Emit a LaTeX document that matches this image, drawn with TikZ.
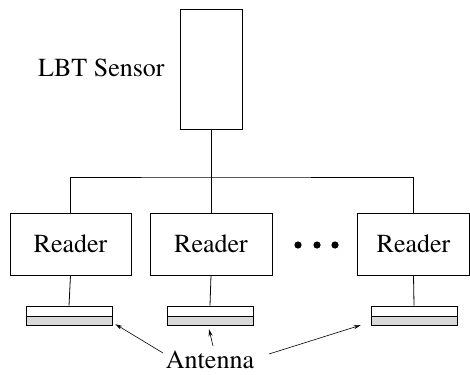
\documentclass[tikz,border=0pt]{standalone}
\usepackage[T1]{fontenc}
\renewcommand{\rmdefault}{ptm}
\usetikzlibrary{arrows.meta,calc}

\tikzset{
	lbl/.style={font=\fontsize{26}{30}\selectfont, inner sep=0pt},
	box/.style={draw, line width=0.8pt, inner sep=0pt, minimum height=62pt, font=\fontsize{26}{30}\selectfont},
	anttop/.style={draw, line width=0.8pt, inner sep=0pt, minimum width=86pt, minimum height=10pt},
	antbot/.style={anttop, fill=gray!30, minimum height=9pt},
	wire/.style={line width=0.8pt},
	pointer/.style={line width=0.6pt, -{Stealth[length=7pt,width=4pt]}}
}

\begin{document}
\begin{tikzpicture}[x=1pt, y=-1pt]
		\useasboundingbox (0,0) rectangle (470,374);

		\node[draw, line width=0.8pt, inner sep=0pt, minimum width=62pt, minimum height=120pt] (sensor) at (211,69) {};
		\node[lbl, anchor=base west] (sensorlbl) at (38,77) {LBT Sensor};

		\node[box, minimum width=121pt] (r1) at (70.5,244) {Reader};
		\node[box, minimum width=122pt] (r2) at (211,244) {Reader};
		\node[box, minimum width=112pt] (r3) at (413.5,244) {Reader};

		\coordinate (bus) at (211,177);
		\draw[wire] (sensor.south) -- (r2.north);
		\draw[wire] (r1.north) |- (bus) -| (r3.north);

		\foreach \x in {298,317,335}
			\fill (\x,245) circle [radius=3.6pt];

		\node[anttop] (a1) at (69,311) {};
		\node[antbot, anchor=north] (a1b) at (a1.south) {};
		\node[anttop] (a2) at (210,311) {};
		\node[antbot, anchor=north] (a2b) at (a2.south) {};
		\node[anttop] (a3) at (414,311) {};
		\node[antbot, anchor=north] (a3b) at (a3.south) {};

		\draw[wire] (r1.south) -- (a1.north);
		\draw[wire] (r2.south) -- (a2.north);
		\draw[wire] (r3.south) -- (a3.north);

		\node[lbl, anchor=base] (ant) at (210,368) {Antenna};
		\coordinate (p1) at (163,353);
		\coordinate (p2) at (213,346);
		\coordinate (p3) at (269,354);
		\draw[pointer] (p1) -- ($(a1b.south east)+(3,-2)$);
		\draw[pointer] (p2) -- ($(a2b.south)+(-1,3)$);
		\draw[pointer] (p3) -- ($(a3b.south west)+(-10,-1)$);
	\end{tikzpicture}
\end{document}
